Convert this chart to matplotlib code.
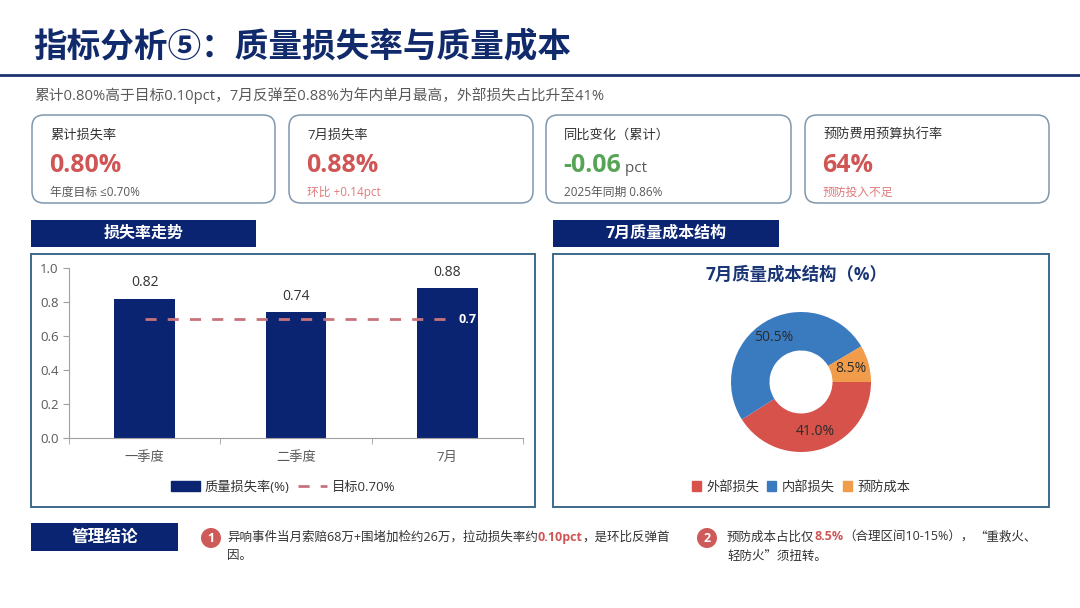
import matplotlib
matplotlib.use('Agg')
import matplotlib.pyplot as plt
from matplotlib.patches import FancyBboxPatch, Rectangle, Circle, Patch
from matplotlib.lines import Line2D

plt.rcParams['font.family'] = ['Open Sans', 'Noto Sans CJK SC', 'DejaVu Sans']
CJK = ['Noto Sans CJK SC', 'DejaVu Sans']

# ---- data ----
title = '指标分析⑤：质量损失率与质量成本'
subtitle = '累计0.80%高于目标0.10pct，7月反弹至0.88%为年内单月最高，外部损失占比升至41%'

kpi_labels = ['累计损失率', '7月损失率', '同比变化（累计）', '预防费用预算执行率']
kpi_values = ['0.80%', '0.88%', '-0.06', '64%']
kpi_units = ['', '', ' pct', '']
kpi_notes = ['年度目标 ≤0.70%', '环比 +0.14pct', '2025年同期 0.86%', '预防投入不足']
kpi_good = [False, False, True, False]
kpi_note_alert = [False, True, False, True]

periods = ['一季度', '二季度', '7月']
loss_rate = [0.82, 0.74, 0.88]
target_rate = 0.70

cost_items = ['外部损失', '内部损失', '预防成本']
cost_share = [41.0, 50.5, 8.5]

NAVY = '#0b2472'
RED = '#d05656'
GREEN = '#56a556'
PINK = '#e07b7b'
GREY = '#595959'
BORDER = '#3d6a8a'
CARD = '#7f97ad'

W, H = 1080, 608
fig = plt.figure(figsize=(10.8, 6.08), dpi=100)
bg = fig.add_axes([0, 0, 1, 1])
bg.set_xlim(0, W)
bg.set_ylim(H, 0)
bg.axis('off')
renderer = fig.canvas.get_renderer()


def fax(l, t, r, b):
    return fig.add_axes([l / W, 1 - b / H, (r - l) / W, (b - t) / H])


def chain(x, y, parts, size):
    for s, props in parts:
        t = bg.text(x, y, s, va='center', ha='left', fontsize=size, **props)
        x = t.get_window_extent(renderer).x1
    return x


# ---- header ----
bg.text(33, 47, title, fontsize=24.2, fontweight='bold', color='#102a6b', va='center', family=CJK)
bg.plot([0, W], [75, 75], color='#1c3370', lw=2)
bg.text(34, 96, subtitle, fontsize=10.6, color=GREY, va='center')

# ---- KPI cards ----
cards_x = [(32, 275), (289, 533), (546, 791), (805, 1049)]
for i, (l, r) in enumerate(cards_x):
    bg.add_patch(FancyBboxPatch((l, 115), r - l, 88, boxstyle='round,pad=0,rounding_size=12',
                                fc='white', ec=CARD, lw=1.1))
    bg.text(l + 18, 135, kpi_labels[i], fontsize=9.5, color='#333333', va='center')
    vcol = GREEN if kpi_good[i] else RED
    x1 = chain(l + 17, 165, [(kpi_values[i], dict(color=vcol, fontweight='bold'))], 18)
    if kpi_units[i]:
        bg.text(x1, 168, kpi_units[i], fontsize=11, color=GREY, va='center')
    bg.text(l + 18, 192, kpi_notes[i], fontsize=8.5,
            color=PINK if kpi_note_alert[i] else GREY, va='center')

# ---- section headers and panels ----
for (l, r, txt) in [(31, 256, '损失率走势'), (553, 779, '7月质量成本结构')]:
    bg.add_patch(Rectangle((l, 220), r - l, 27, fc=NAVY, ec='none'))
    bg.text((l + r) / 2, 234, txt, fontsize=11.5, fontweight='bold', color='white',
            ha='center', va='center')
for (l, r) in [(31, 535), (553, 1049)]:
    bg.add_patch(Rectangle((l, 254), r - l, 253, fc='white', ec=BORDER, lw=1.4))

# ---- bar chart ----
ax = fax(69, 268, 523, 438)
ax.patch.set_alpha(0)
x = list(range(len(periods)))
bars = ax.bar(x, loss_rate, width=0.4, color=NAVY, zorder=2)
ax.bar_label(bars, labels=[f'{v:.2f}' for v in loss_rate], padding=6, fontsize=10, color='#333333')
ax.plot(x, [target_rate] * len(x), color='#c8737c', lw=2, ls=(0, (4, 4)), zorder=3)
ax.annotate(f'{target_rate:g}', (x[-1], target_rate), xytext=(8, 0), textcoords='offset points',
            color='white', fontweight='bold', fontsize=9, va='center', ha='left', zorder=4)
ax.set_xlim(-0.5, len(periods) - 0.5)
ax.set_ylim(0, 1.0)
ax.set_yticks([0, 0.2, 0.4, 0.6, 0.8, 1.0])
ax.set_yticklabels([f'{v:.1f}' for v in [0, 0.2, 0.4, 0.6, 0.8, 1.0]])
ax.set_xticks(x)
ax.set_xticklabels(periods)
ax.set_xticks([i - 0.5 for i in range(len(periods) + 1)], minor=True)
ax.tick_params(axis='x', which='major', length=0, pad=9, labelsize=9.5, labelcolor=GREY)
ax.tick_params(axis='x', which='minor', length=4, color='#a0a0a0')
ax.tick_params(axis='y', length=4, color='#a0a0a0', labelsize=9.5, labelcolor=GREY)
for s in ['top', 'right']:
    ax.spines[s].set_visible(False)
for s in ['left', 'bottom']:
    ax.spines[s].set_color('#a0a0a0')

handles = [Patch(color=NAVY, label='质量损失率(%)'),
           Line2D([], [], color='#c8737c', lw=2, ls=(0, (4, 4)), label=f'目标{target_rate:.2f}%')]
fig.legend(handles=handles, loc='center', bbox_to_anchor=(283 / W, 1 - 487 / H), ncol=2,
           frameon=False, fontsize=9.5, handlelength=2.2, handleheight=0.8, columnspacing=0.6,
           handletextpad=0.4, labelcolor='#333333')

# ---- donut chart ----
bg.text(796, 275, '7月质量成本结构（%）', fontsize=12.5, fontweight='bold', color='#1a3575',
        ha='center', va='center')
axp = fax(731, 312, 871, 452)
wedges, _, autotexts = axp.pie(cost_share, colors=['#d6524b', '#3a7bc0', '#f19c4a'],
                               startangle=0, counterclock=False, radius=1,
                               autopct='%.1f%%', pctdistance=0.74,
                               wedgeprops=dict(width=0.55, edgecolor='none'),
                               textprops=dict(fontsize=10, color='#2b2b2b'))
axp.set_xlim(-1, 1)
axp.set_ylim(-1, 1)
axp.set_aspect('equal')
ph = [Patch(color=w.get_facecolor(), label=lab) for w, lab in zip(wedges, cost_items)]
fig.legend(handles=ph, loc='center', bbox_to_anchor=(801 / W, 1 - 487 / H), ncol=3,
           frameon=False, fontsize=9.5, handlelength=0.7, handleheight=0.7, columnspacing=0.6,
           handletextpad=0.4, labelcolor='#333333')

# ---- conclusions ----
bg.add_patch(Rectangle((31, 523), 147, 28, fc=NAVY, ec='none'))
bg.text(104.5, 537, '管理结论', fontsize=12, fontweight='bold', color='white', ha='center', va='center')

notes = [
    (211, 227, [[('异响事件当月索赔68万+围堵加检约26万，拉动损失率约', {}),
                 ('0.10pct', dict(color=RED, fontweight='bold')),
                 ('，是环比反弹首', {})],
                [('因。', {})]]),
    (707, 727, [[('预防成本占比仅', {}),
                 ('8.5%', dict(color=RED, fontweight='bold')),
                 ('（合理区间10-15%），', {}),
                 ('“重救火、', dict(family=CJK))],
                [('轻防火”须扭转。', dict(family=CJK))]]),
]
for n, (cx, tx, lines) in enumerate(notes, start=1):
    bg.add_patch(Circle((cx, 538), 10, fc='#cf5a5a', ec='none'))
    bg.text(cx, 538, str(n), fontsize=9, fontweight='bold', color='white', ha='center', va='center')
    for k, parts in enumerate(lines):
        parts = [(s, dict(dict(color='#333333'), **p)) for s, p in parts]
        chain(tx, 537 + k * 19, parts, 9)

fig.savefig('out.png', dpi=100, facecolor='white')
